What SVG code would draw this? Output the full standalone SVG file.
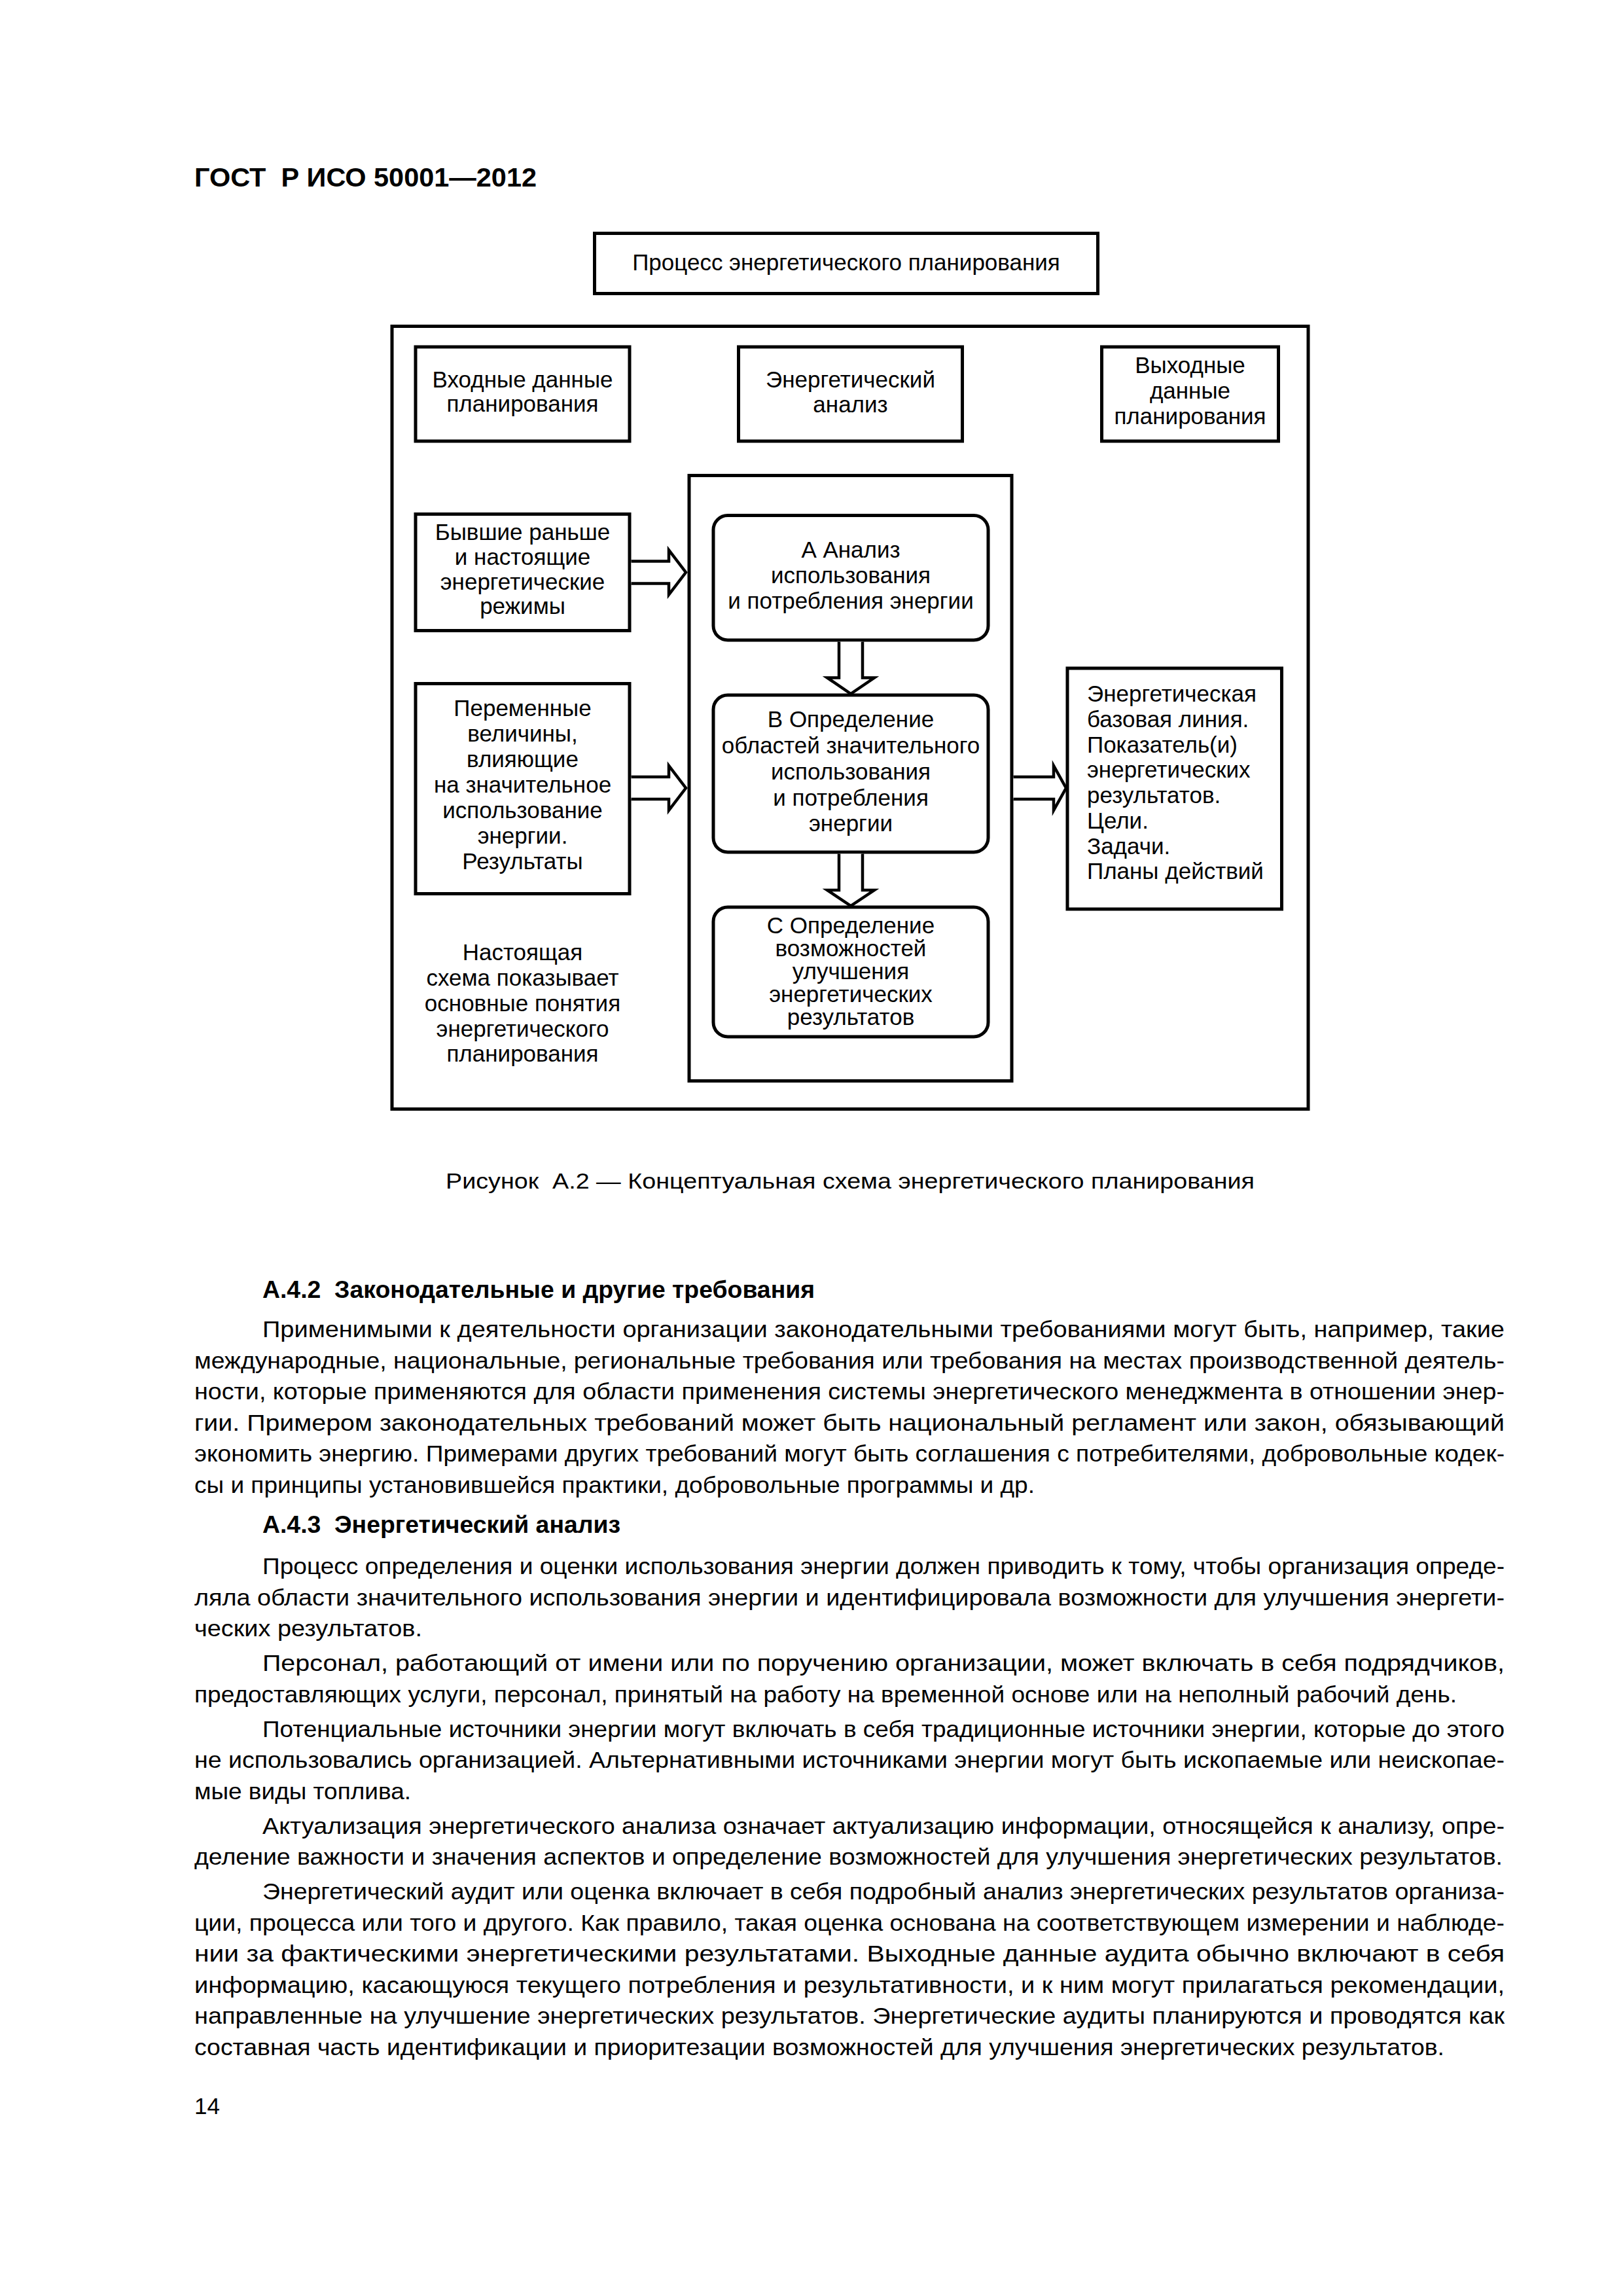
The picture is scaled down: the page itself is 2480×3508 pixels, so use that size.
<svg xmlns="http://www.w3.org/2000/svg" width="2480" height="3508" viewBox="0 0 2480 3508">
<style>
.bg{fill:#fff}
.box{fill:#fff;stroke:#000;stroke-width:5}
.arr{fill:#fff;stroke:#000;stroke-width:4.5;stroke-linejoin:miter}
text{font-family:"Liberation Sans",Arial,sans-serif;fill:#000}
.t{font-size:35px}
.c{text-anchor:middle}
.p{font-size:35px}
.hb{font-size:37px;font-weight:bold}
</style>
<rect class="bg" x="0" y="0" width="2480" height="3508"/>

<text x="297" y="285" font-size="40" font-weight="bold" textLength="523" lengthAdjust="spacingAndGlyphs">ГОСТ&#160; Р ИСО 50001—2012</text>

<g id="title">
<rect class="box" x="908.5" y="356.5" width="769" height="92"/>
<text class="t c" x="1293" y="413">Процесс энергетического планирования</text>
</g>

<g id="frame">
<rect class="box" x="599" y="498.5" width="1400" height="1196"/>
</g>

<g id="input-head">
<rect class="box" x="635" y="530" width="327" height="144"/>
<text class="t c" x="798.5" y="592">Входные данные</text>
<text class="t c" x="798.5" y="629">планирования</text>
</g>

<g id="analysis-head">
<rect class="box" x="1128.5" y="530" width="342" height="144"/>
<text class="t c" x="1299.5" y="592">Энергетический</text>
<text class="t c" x="1299.5" y="630">анализ</text>
</g>

<g id="output-head">
<rect class="box" x="1683.5" y="530" width="270" height="144"/>
<text class="t c" x="1818.5" y="570">Выходные</text>
<text class="t c" x="1818.5" y="609">данные</text>
<text class="t c" x="1818.5" y="648">планирования</text>
</g>

<g id="past">
<rect class="box" x="635" y="785.5" width="327" height="178"/>
<text class="t c" x="798.5" y="825">Бывшие раньше</text>
<text class="t c" x="798.5" y="863">и настоящие</text>
<text class="t c" x="798.5" y="901">энергетические</text>
<text class="t c" x="798.5" y="938">режимы</text>
</g>

<g id="variables">
<rect class="box" x="635" y="1044.5" width="327" height="321"/>
<text class="t c" x="798.5" y="1094">Переменные</text>
<text class="t c" x="798.5" y="1133">величины,</text>
<text class="t c" x="798.5" y="1172">влияющие</text>
<text class="t c" x="798.5" y="1211">на значительное</text>
<text class="t c" x="798.5" y="1250">использование</text>
<text class="t c" x="798.5" y="1289">энергии.</text>
<text class="t c" x="798.5" y="1328">Результаты</text>
</g>

<g id="note">
<text class="t c" x="798.5" y="1467">Настоящая</text>
<text class="t c" x="798.5" y="1506">схема показывает</text>
<text class="t c" x="798.5" y="1545">основные понятия</text>
<text class="t c" x="798.5" y="1584">энергетического</text>
<text class="t c" x="798.5" y="1622">планирования</text>
</g>

<g id="container">
<rect class="box" x="1053" y="726.5" width="493" height="925"/>
</g>

<g id="step-a">
<rect class="box" x="1090" y="787.5" width="420" height="190.5" rx="22" ry="22"/>
<text class="t c" x="1300" y="852">А Анализ</text>
<text class="t c" x="1300" y="891">использования</text>
<text class="t c" x="1300" y="930">и потребления энергии</text>
</g>

<g id="step-b">
<rect class="box" x="1090" y="1062" width="420" height="240" rx="22" ry="22"/>
<text class="t c" x="1300" y="1111">В Определение</text>
<text class="t c" x="1300" y="1151">областей значительного</text>
<text class="t c" x="1300" y="1191">использования</text>
<text class="t c" x="1300" y="1231">и потребления</text>
<text class="t c" x="1300" y="1270">энергии</text>
</g>

<g id="step-c">
<rect class="box" x="1090" y="1386" width="420" height="198" rx="22" ry="22"/>
<text class="t c" x="1300" y="1426">С Определение</text>
<text class="t c" x="1300" y="1461">возможностей</text>
<text class="t c" x="1300" y="1496">улучшения</text>
<text class="t c" x="1300" y="1531">энергетических</text>
<text class="t c" x="1300" y="1566">результатов</text>
</g>

<g id="outputs">
<rect class="box" x="1631" y="1021" width="327.5" height="368"/>
<text class="t" x="1661" y="1072">Энергетическая</text>
<text class="t" x="1661" y="1111">базовая линия.</text>
<text class="t" x="1661" y="1150">Показатель(и)</text>
<text class="t" x="1661" y="1188">энергетических</text>
<text class="t" x="1661" y="1227">результатов.</text>
<text class="t" x="1661" y="1266">Цели.</text>
<text class="t" x="1661" y="1305">Задачи.</text>
<text class="t" x="1661" y="1343">Планы действий</text>
</g>

<g id="connectors">
<path class="arr" d="M964.5,857.5 H1022 V840.5 L1048,874.5 L1022,908.5 V891.5 H964.5"/>
<path class="arr" d="M964.5,1187 H1022 V1170 L1048,1204 L1022,1238 V1221 H964.5"/>
<path class="arr" d="M1548.5,1187 H1610 V1170 L1629,1204 L1610,1238 V1221 H1548.5"/>
<path class="arr" d="M1282,980.5 V1035.5 H1264 L1300,1060 L1336,1035.5 H1318 V980.5"/>
<path class="arr" d="M1282,1304.5 V1360 H1264 L1300,1384 L1336,1360 H1318 V1304.5"/>
</g>

<text x="681" y="1816" font-size="34" textLength="1236" lengthAdjust="spacingAndGlyphs">Рисунок&#160; А.2 — Концептуальная схема энергетического планирования</text>

<g id="body">
<text class="hb" x="401" y="1983" textLength="844" lengthAdjust="spacingAndGlyphs">А.4.2&#160; Законодательные и другие требования</text>
<text class="p" x="401" y="2043" textLength="1898" lengthAdjust="spacingAndGlyphs">Применимыми к деятельности организации законодательными требованиями могут быть, например, такие</text>
<text class="p" x="297" y="2090.5" textLength="2002" lengthAdjust="spacingAndGlyphs">международные, национальные, региональные требования или требования на местах производственной деятель-</text>
<text class="p" x="297" y="2138" textLength="2002" lengthAdjust="spacingAndGlyphs">ности, которые применяются для области применения системы энергетического менеджмента в отношении энер-</text>
<text class="p" x="297" y="2185.5" textLength="2002" lengthAdjust="spacingAndGlyphs">гии. Примером законодательных требований может быть национальный регламент или закон, обязывающий</text>
<text class="p" x="297" y="2233" textLength="2002" lengthAdjust="spacingAndGlyphs">экономить энергию. Примерами других требований могут быть соглашения с потребителями, добровольные кодек-</text>
<text class="p" x="297" y="2280.5" textLength="1284" lengthAdjust="spacingAndGlyphs">сы и принципы установившейся практики, добровольные программы и др.</text>

<text class="hb" x="401" y="2342" textLength="547" lengthAdjust="spacingAndGlyphs">А.4.3&#160; Энергетический анализ</text>
<text class="p" x="401" y="2405" textLength="1898" lengthAdjust="spacingAndGlyphs">Процесс определения и оценки использования энергии должен приводить к тому, чтобы организация опреде-</text>
<text class="p" x="297" y="2452.5" textLength="2002" lengthAdjust="spacingAndGlyphs">ляла области значительного использования энергии и идентифицировала возможности для улучшения энергети-</text>
<text class="p" x="297" y="2500" textLength="348" lengthAdjust="spacingAndGlyphs">ческих результатов.</text>

<text class="p" x="401" y="2553" textLength="1898" lengthAdjust="spacingAndGlyphs">Персонал, работающий от имени или по поручению организации, может включать в себя подрядчиков,</text>
<text class="p" x="297" y="2600.5" textLength="1929" lengthAdjust="spacingAndGlyphs">предоставляющих услуги, персонал, принятый на работу на временной основе или на неполный рабочий день.</text>

<text class="p" x="401" y="2653.5" textLength="1898" lengthAdjust="spacingAndGlyphs">Потенциальные источники энергии могут включать в себя традиционные источники энергии, которые до этого</text>
<text class="p" x="297" y="2701" textLength="2002" lengthAdjust="spacingAndGlyphs">не использовались организацией. Альтернативными источниками энергии могут быть ископаемые или неископае-</text>
<text class="p" x="297" y="2748.5" textLength="331" lengthAdjust="spacingAndGlyphs">мые виды топлива.</text>

<text class="p" x="401" y="2801.5" textLength="1898" lengthAdjust="spacingAndGlyphs">Актуализация энергетического анализа означает актуализацию информации, относящейся к анализу, опре-</text>
<text class="p" x="297" y="2849" textLength="1999" lengthAdjust="spacingAndGlyphs">деление важности и значения аспектов и определение возможностей для улучшения энергетических результатов.</text>

<text class="p" x="401" y="2902" textLength="1898" lengthAdjust="spacingAndGlyphs">Энергетический аудит или оценка включает в себя подробный анализ энергетических результатов организа-</text>
<text class="p" x="297" y="2949.5" textLength="2002" lengthAdjust="spacingAndGlyphs">ции, процесса или того и другого. Как правило, такая оценка основана на соответствующем измерении и наблюде-</text>
<text class="p" x="297" y="2997" textLength="2002" lengthAdjust="spacingAndGlyphs">нии за фактическими энергетическими результатами. Выходные данные аудита обычно включают в себя</text>
<text class="p" x="297" y="3044.5" textLength="2002" lengthAdjust="spacingAndGlyphs">информацию, касающуюся текущего потребления и результативности, и к ним могут прилагаться рекомендации,</text>
<text class="p" x="297" y="3092" textLength="2002" lengthAdjust="spacingAndGlyphs">направленные на улучшение энергетических результатов. Энергетические аудиты планируются и проводятся как</text>
<text class="p" x="297" y="3139.5" textLength="1910" lengthAdjust="spacingAndGlyphs">составная часть идентификации и приоритезации возможностей для улучшения энергетических результатов.</text>
</g>

<text class="p" x="297" y="3230">14</text>
</svg>
